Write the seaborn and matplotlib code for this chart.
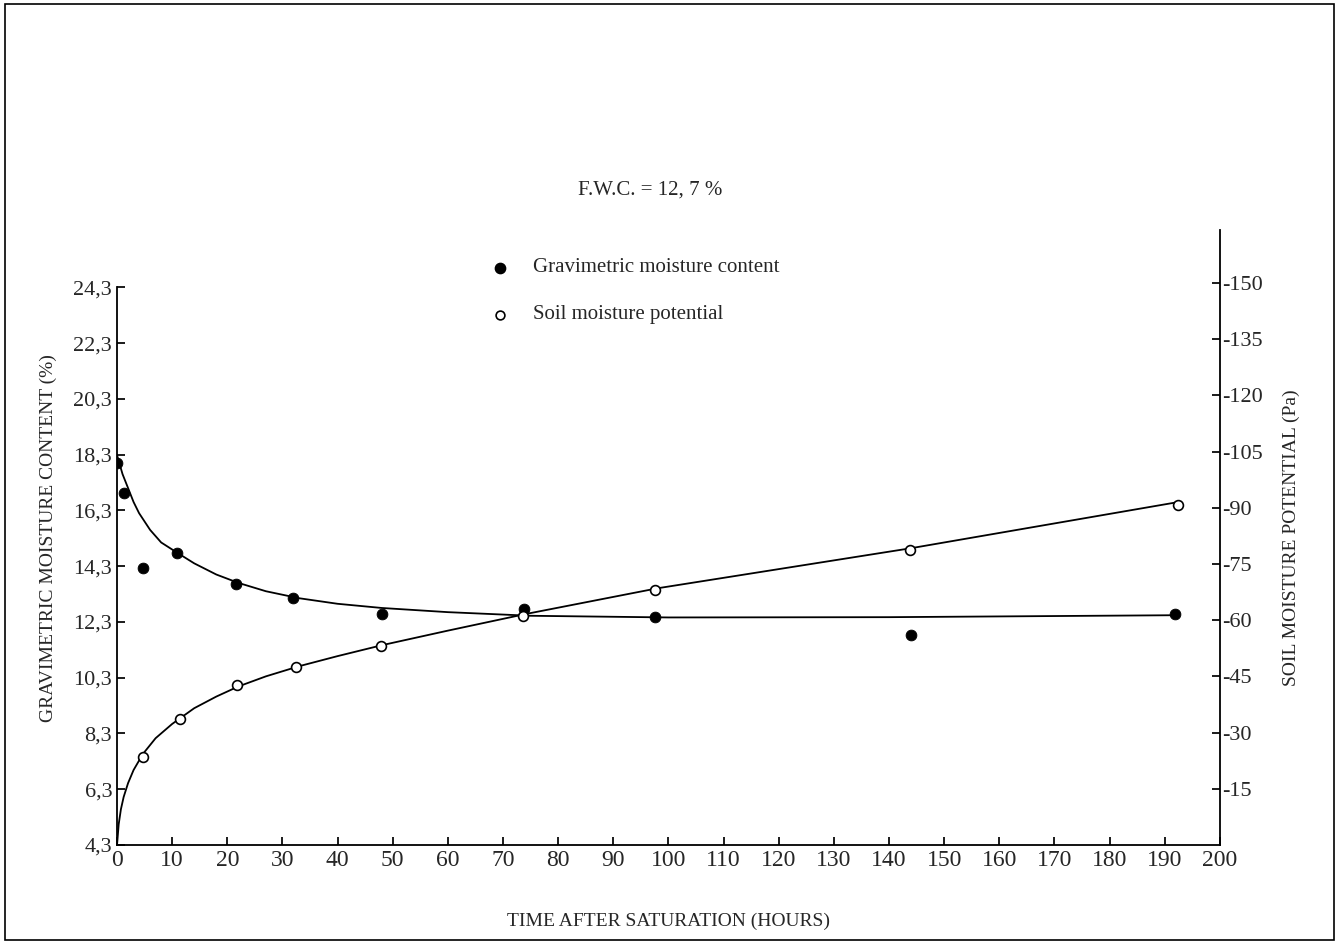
import matplotlib
matplotlib.use("Agg")
import matplotlib.pyplot as plt
import seaborn as sns

sns.set_theme(style="white")
plt.rcParams['font.family'] = ['Liberation Serif', 'DejaVu Serif']

# gravimetric moisture content (%) points
grav_t = [0, 1.3, 4.7, 10.9, 21.6, 31.9, 48, 73.8, 97.6, 144, 191.8]
grav_v = [17.99, 16.92, 14.23, 14.77, 13.65, 13.15, 12.58, 12.76, 12.47, 11.83, 12.58]
# fitted curve
gcurve_t = [0, 1, 2, 3, 4, 6, 8, 11, 14, 18, 22, 27, 33, 40, 48, 60, 75, 100, 140, 192]
gcurve_v = [18.28, 17.6, 17.1, 16.6, 16.2, 15.6, 15.15, 14.77, 14.4, 14.0, 13.7, 13.4, 13.15,
            12.95, 12.8, 12.65, 12.52, 12.46, 12.47, 12.54]
# soil moisture potential (magnitude, Pa)
pot_t = [4.7, 11.4, 21.8, 32.5, 47.9, 73.6, 97.6, 143.8, 192.4]
pot_v = [23.5, 33.6, 42.7, 47.5, 53.0, 61.0, 68.0, 78.7, 90.7]
pcurve_t = [0, 0.3, 0.7, 1.2, 2, 3, 4.7, 7, 10, 14, 18, 22, 27, 33, 40, 48, 60, 74, 98, 144, 192.4]
pcurve_v = [0, 5.5, 9.5, 12.8, 16.5, 20.0, 24.3, 28.5, 32.3, 36.5, 39.6, 42.3, 45.0, 47.7,
            50.4, 53.3, 57.2, 61.6, 68.5, 79.2, 91.5]

left_ticks = [4.3, 6.3, 8.3, 10.3, 12.3, 14.3, 16.3, 18.3, 20.3, 22.3, 24.3]
right_ticks = [15, 30, 45, 60, 75, 90, 105, 120, 135, 150]
x_ticks = list(range(0, 201, 10))

fig = plt.figure(figsize=(13.39, 9.44), dpi=100)
ax = fig.add_axes([0.0874, 0.1049, 0.8236, 0.651])
ax2 = ax.twinx()

sns.lineplot(x=gcurve_t, y=gcurve_v, ax=ax, color='black', lw=1.3)
sns.scatterplot(x=grav_t, y=grav_v, ax=ax, color='black', s=60, edgecolor='black', zorder=5)
sns.lineplot(x=pcurve_t, y=pcurve_v, ax=ax2, color='black', lw=1.3)
sns.scatterplot(x=pot_t, y=pot_v, ax=ax2, facecolor='white', edgecolor='black', s=50, linewidth=1.2, zorder=5)

ax.set_xlim(0, 200)
ax.set_ylim(4.3, 26.34)
ax2.set_ylim(0, 164)
ax.set_yticks(left_ticks)
ax.set_yticklabels([f"{v:.1f}".replace('.', ',') for v in left_ticks], fontsize=16)
ax2.set_yticks(right_ticks)
ax2.set_yticklabels([f"-{v}" for v in right_ticks], fontsize=16)
ax.set_xticks(x_ticks)
ax.set_xticklabels([str(v) for v in x_ticks], fontsize=17)
for a in (ax, ax2):
    a.spines['top'].set_visible(False)
    for s in a.spines.values():
        s.set_color('black')
        s.set_linewidth(1.3)
ax.spines['right'].set_visible(False)
ax2.spines['left'].set_visible(False)
ax2.spines['bottom'].set_visible(False)
ax.spines['left'].set_bounds(4.3, 24.3)
ax.tick_params(axis='both', direction='in', length=6, color='black', left=True, bottom=True)
ax2.tick_params(axis='y', direction='in', length=6, color='black', right=True, pad=2)

ax.set_xlabel("TIME AFTER SATURATION (HOURS)", fontsize=14, labelpad=30)
ax.set_ylabel("GRAVIMETRIC MOISTURE CONTENT (%)", fontsize=14, labelpad=12)
ax2.set_ylabel("SOIL MOISTURE POTENTIAL (Pa)", fontsize=14, labelpad=14)

fig.text(650/1339, 1 - 190/944, "F.W.C. = 12, 7 %", fontsize=15, ha='center', va='center')
ax.scatter([500/1339], [1 - 268/944], transform=fig.transFigure, s=55, color='black', clip_on=False)
ax.scatter([500/1339], [1 - 315/944], transform=fig.transFigure, s=40, facecolor='white',
           edgecolor='black', linewidth=1.2, clip_on=False)
fig.text(533/1339, 1 - 267/944, "Gravimetric moisture content", fontsize=15, va='center')
fig.text(533/1339, 1 - 314/944, "Soil moisture potential", fontsize=15, va='center')

fig.patches.append(plt.Rectangle((0.004, 0.004), 0.992, 0.992, transform=fig.transFigure,
                                 fill=False, edgecolor='black', lw=1.2))
fig.savefig("out.png", dpi=100)
